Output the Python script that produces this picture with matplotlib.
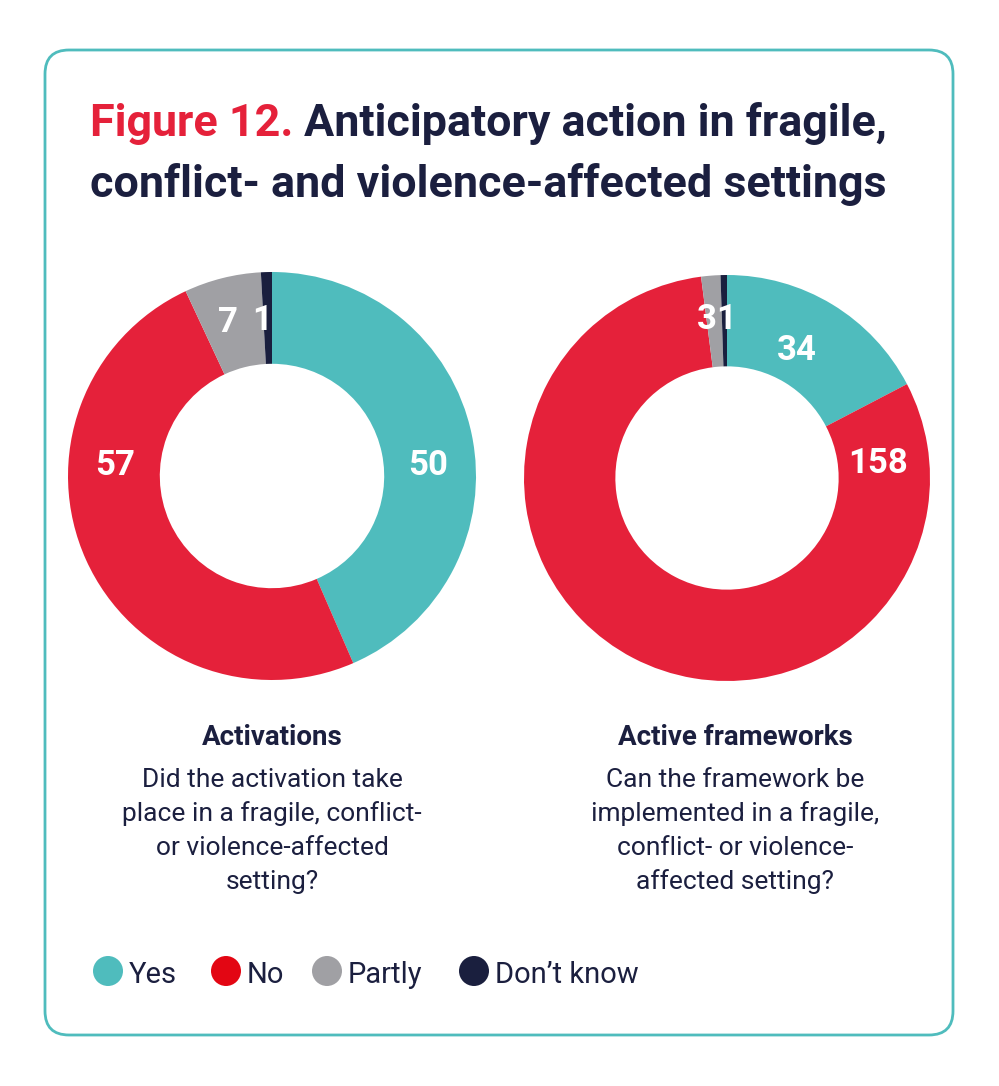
import matplotlib

matplotlib.use("Agg")
import matplotlib.pyplot as plt  # noqa: E402
from matplotlib import font_manager  # noqa: E402
from matplotlib.patches import Circle, FancyBboxPatch  # noqa: E402

W, H = 999, 1086

categories = ["Yes", "No", "Partly", "Don\u2019t know"]
pie_colors = ["#4fbcbd", "#e5213a", "#a0a0a4", "#1a1f3e"]
legend_colors = ["#4fbcbd", "#e30613", "#a0a0a4", "#1a1f3e"]
activations = [50, 57, 7, 1]
frameworks = [34, 158, 3, 1]

panel_titles = ["Activations", "Active frameworks"]
panel_questions = [
    "Did the activation take\nplace in a fragile, conflict-\nor violence-affected\nsetting?",
    "Can the framework be\nimplemented in a fragile,\nconflict- or violence-\naffected setting?",
]

NAVY = "#1b1f3f"
RED = "#e5213a"
TEAL = "#4fbcbd"

_names = {f.name for f in font_manager.fontManager.ttflist}
FONT = "Liberation Sans Narrow" if "Liberation Sans Narrow" in _names else "Roboto"

fig = plt.figure(figsize=(W / 100, H / 100), dpi=100)
bg = fig.add_axes([0, 0, 1, 1])
bg.set_xlim(0, W)
bg.set_ylim(H, 0)
bg.axis("off")
renderer = fig.canvas.get_renderer()


def fit(t, width_px):
    # scale the font so the text spans the width measured on the reference
    bb = t.get_window_extent(renderer)
    t.set_fontsize(t.get_fontsize() * width_px / bb.width)
    return t


def width_of(t):
    return t.get_window_extent(renderer).width


# frame
bg.add_patch(FancyBboxPatch((45, 50), 908, 985, boxstyle="round,pad=0,rounding_size=24",
                            fc="white", ec=TEAL, lw=2))

# title
line1 = bg.text(90, 136, "Figure 12. Anticipatory action in fragile,", fontsize=30,
                fontweight="bold", family=FONT, va="baseline", alpha=0)
fit(line1, 798)
fs = line1.get_fontsize()
red = bg.text(90, 136, "Figure 12.", fontsize=fs, fontweight="bold", family=FONT,
              color=RED, va="baseline")
gap = width_of(line1) - width_of(red) - width_of(
    bg.text(0, 0, "Anticipatory action in fragile,", fontsize=fs, fontweight="bold",
            family=FONT, alpha=0))
bg.text(90 + width_of(red) + gap, 136, "Anticipatory action in fragile,", fontsize=fs,
        fontweight="bold", family=FONT, color=NAVY, va="baseline")
bg.text(90, 197, "conflict- and violence-affected settings", fontsize=fs,
        fontweight="bold", family=FONT, color=NAVY, va="baseline")


def donut(values, cx, cy, r, label_pos):
    ax = fig.add_axes([(cx - r) / W, (H - cy - r) / H, 2 * r / W, 2 * r / H])
    ax.pie(values, colors=pie_colors, startangle=90, counterclock=False, radius=1,
           wedgeprops=dict(width=0.45, linewidth=0))
    ax.set_xlim(-1, 1)
    ax.set_ylim(-1, 1)
    ax.axis("off")
    for v, (x, y) in zip(values, label_pos):
        ax.text(x, y, str(v), ha="center", va="center", color="white", fontsize=25,
                fontweight="bold", family=FONT)


donut(activations, 272, 476, 204,
      [(0.765, 0.05), (-0.77, 0.05), (-0.215, 0.75), (-0.05, 0.76)])
donut(frameworks, 727, 478, 203,
      [(0.345, 0.63), (0.745, 0.07), (-0.10, 0.78), (-0.005, 0.78)])

# panel captions
for cx, head, q in zip([272, 735], panel_titles, panel_questions):
    bg.text(cx, 745, head, ha="center", va="baseline", fontsize=20, fontweight="bold",
            family=FONT, color=NAVY)
    for i, ln in enumerate(q.split("\n")):
        bg.text(cx, 787 + 34 * i, ln, ha="center", va="baseline", fontsize=19,
                family=FONT, color=NAVY)

# legend
legend_x = [108, 226, 327, 474]
for x, lab, c in zip(legend_x, categories, legend_colors):
    bg.add_patch(Circle((x, 971), 15, fc=c, ec="none"))
    bg.text(x + 21, 983, lab, va="baseline", ha="left", fontsize=21, family=FONT,
            color=NAVY)

fig.savefig("out.png", dpi=100)
